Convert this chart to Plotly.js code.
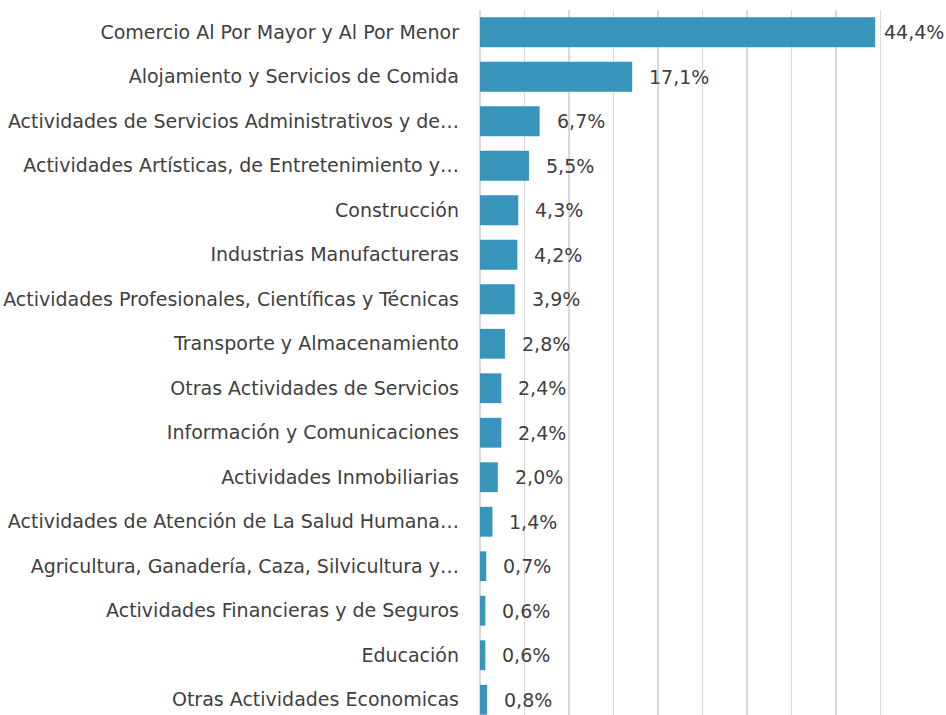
<!DOCTYPE html>
<html>
<head>
<meta charset="utf-8">
<script src="https://cdn.plot.ly/plotly-3.0.1.min.js"></script>
<style>
html,body{margin:0;padding:0;overflow:hidden;background:#fff;}
#chart{width:946px;height:726px;}
</style>
</head>
<body>
<div id="chart"></div>
<script>
const categories = [
  "Comercio Al Por Mayor y Al Por Menor",
  "Alojamiento y Servicios de Comida",
  "Actividades de Servicios Administrativos y de…",
  "Actividades Artísticas, de Entretenimiento y…",
  "Construcción",
  "Industrias Manufactureras",
  "Actividades Profesionales, Científicas y Técnicas",
  "Transporte y Almacenamiento",
  "Otras Actividades de Servicios",
  "Información y Comunicaciones",
  "Actividades Inmobiliarias",
  "Actividades de Atención de La Salud Humana…",
  "Agricultura, Ganadería, Caza, Silvicultura y…",
  "Actividades Financieras y de Seguros",
  "Educación",
  "Otras Actividades Economicas"
];
const values = [44.4, 17.1, 6.7, 5.5, 4.3, 4.2, 3.9, 2.8, 2.4, 2.4, 2.0, 1.4, 0.7, 0.6, 0.6, 0.8];
const labels = values.map(v => v.toFixed(1).replace('.', ',') + '%');

const font = "Tahoma, 'DejaVu Sans', Verdana, sans-serif";

const trace = {
  type: 'bar',
  orientation: 'h',
  x: values,
  y: categories,
  marker: {color: '#3795BC'},
  width: 0.67,
  hoverinfo: 'none'
};

const annotations = values.map((v, i) => ({
  x: v, y: categories[i], xref: 'x', yref: 'y',
  text: labels[i], showarrow: false, xanchor: 'left',
  xshift: i === 0 ? 7 : 15,
  font: {family: font, size: 19, color: '#404040'}
}));

const layout = {
  width: 946, height: 726,
  margin: {l: 480, r: 21, t: 10, b: 4},
  paper_bgcolor: '#fff', plot_bgcolor: '#fff',
  showlegend: false,
  bargap: 0.33,
  xaxis: {
    range: [0, 50], dtick: 5, tick0: 0,
    showgrid: true, gridcolor: '#d9d9d9', gridwidth: 1.5,
    showticklabels: false, zeroline: true, zerolinecolor: '#d9d9d9', zerolinewidth: 1.5,
    showline: false, fixedrange: true
  },
  yaxis: {
    autorange: 'reversed', type: 'category',
    tickfont: {family: font, size: 19, color: '#404040'},
    ticks: '', ticklabelstandoff: 20, showline: false, showgrid: false
  },
  annotations: annotations
};

Plotly.newPlot('chart', [trace], layout, {displayModeBar: false, staticPlot: true});
</script>
</body>
</html>
